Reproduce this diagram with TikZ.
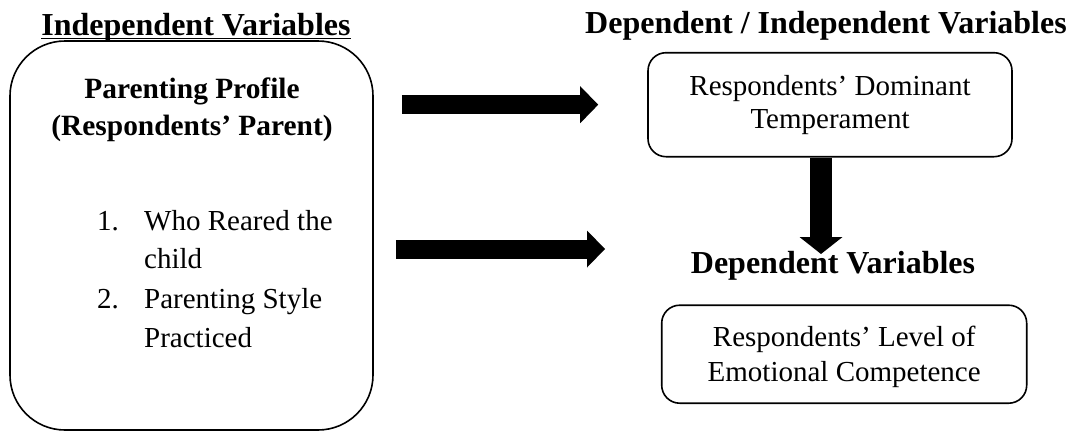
\documentclass[tikz,border=0pt]{standalone}
\usepackage{fontspec}
\setmainfont{Liberation Serif}
\usetikzlibrary{arrows.meta}
\begin{document}
\begin{tikzpicture}[x=1pt,y=-1pt,
  box/.style={draw, line width=1.6pt, rounded corners=18pt, inner sep=0pt, align=center},
  bigbox/.style={draw, line width=1.6pt, rounded corners=55pt, inner sep=0pt},
  title/.style={font=\fontsize{32}{38}\selectfont\bfseries, inner sep=0pt, anchor=base},
  head/.style={font=\fontsize{29.4}{37}\selectfont\bfseries, inner sep=0pt, anchor=base},
  item/.style={font=\fontsize{29}{35}\selectfont, inner sep=0pt, anchor=base west},
  harrow/.style={line width=19pt, -{Triangle[length=18pt,width=37pt,line width=0pt]}},
  varrow/.style={line width=22pt, -{Triangle[length=17pt,width=43pt,line width=0pt]}}]
\useasboundingbox (0,0) rectangle (1073,432);

% left big box
\node[bigbox, minimum width=363pt, minimum height=389pt] (big) at (191.5,235.5) {};
\node[title] (tindep) at (196,35) {Independent Variables};
\draw[line width=1.5pt] ([yshift=-3.5pt]tindep.base west) -- ([yshift=-3.5pt]tindep.base east);
\node[head] (pp1) at (192,98) {Parenting Profile};
\node[head] (pp2) at (192,135) {(Respondents’ Parent)};
\node[item] (n1) at (97,230) {1.};
\node[item] (i1a) at (144,230) {Who Reared the};
\node[item] (i1b) at (144,268) {child};
\node[item] (n2) at (97,308) {2.};
\node[item] (i2a) at (144,308) {Parenting Style};
\node[item] (i2b) at (144,347) {Practiced};

% right side
\node[title] (tdi) at (826,33) {Dependent / Independent Variables};
\node[box, minimum width=364pt, minimum height=104pt, font=\fontsize{29}{33}\selectfont] (b1) at (830,104.7) {Respondents’ Dominant\\Temperament};
\node[title] (tdep) at (833,273) {Dependent Variables};
\node[box, minimum width=365pt, minimum height=98pt, font=\fontsize{29}{35}\selectfont] (b2) at (844.2,354.2) {\rule{0pt}{26pt}Respondents’ Level of\\Emotional Competence};

% arrows
\draw[harrow, shorten <=28pt, shorten >=49pt] (big.east |- b1.west) -- (b1.west);
\coordinate (a2) at (605,249);
\draw[harrow, shorten <=22pt] (big.east |- a2) -- (a2);
\coordinate (a3) at (821,254);
\draw[varrow] (b1.south -| a3) -- (a3);
\end{tikzpicture}
\end{document}
